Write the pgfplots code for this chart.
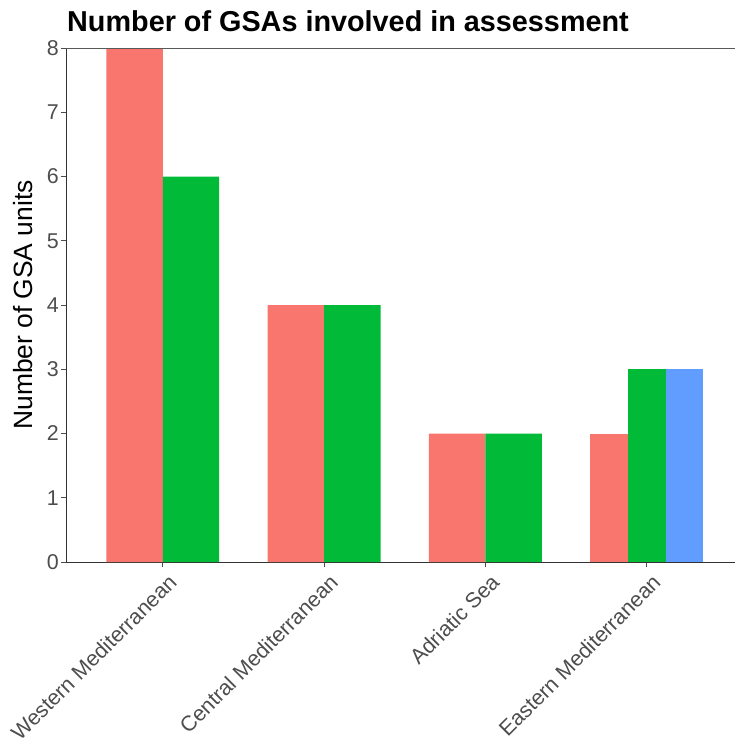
\documentclass[border=0pt]{standalone}
\usepackage{fontspec}
\setmainfont{Liberation Sans}
\usepackage{pgfplots}
\pgfplotsset{compat=1.18}

\definecolor{gred}{HTML}{F8766D}
\definecolor{ggreen}{HTML}{00BA38}
\definecolor{gblue}{HTML}{619CFF}
\definecolor{ticktext}{HTML}{4D4D4D}

\begin{document}
\begin{tikzpicture}
  \begin{axis}[
      scale only axis,
      width=677.5bp,
      height=514bp,
      xmin=-0.6, xmax=3.6,
      ymin=0, ymax=8,
      axis x line*=bottom,
      axis y line*=left,
      axis line style={-, black!80, line width=0.9bp},
      tick align=outside,
      major tick length=5bp,
      tick style={black!70, line width=0.9bp},
      xtick={0,1,2,3},
      xticklabels={Western Mediterranean, Central Mediterranean, Adriatic Sea, Eastern Mediterranean},
      ytick={0,1,...,8},
      /pgf/number format/assume math mode=true,
      tick label style={font=\fontsize{21.5}{24}\selectfont, text=ticktext},
      x tick label style={rotate=45, anchor=north east, inner sep=2bp, xshift=1bp, yshift=-5bp},
      y tick label style={inner sep=2bp},
      ylabel={Number of GSA units},
      ylabel style={font=\fontsize{26.5}{30}\selectfont, at={([xshift=-33bp]axis description cs:0,0.5)}, anchor=base},
      title={Number of GSAs involved in assessment},
      title style={font=\bfseries\fontsize{28.9}{32}\selectfont, at={(axis description cs:0,1)}, anchor=base west, yshift=11bp, inner sep=0pt, xshift=1bp},
      ybar, bar shift=0pt,
      clip=false,
    ]
    % Western, Central, Adriatic: two groups, Eastern: three groups
    \addplot[fill=gred, draw=none, bar width=0.35] coordinates {(-0.175,8) (0.825,4) (1.825,2)};
    \addplot[fill=ggreen, draw=none, bar width=0.35] coordinates {(0.175,6) (1.175,4) (2.175,2)};
    \addplot[fill=gred, draw=none, bar width=0.2333] coordinates {(2.7667,2)};
    \addplot[fill=ggreen, draw=none, bar width=0.2333] coordinates {(3,3)};
    \addplot[fill=gblue, draw=none, bar width=0.2333] coordinates {(3.2333,3)};
    \draw[black!65, line width=0.9bp] (rel axis cs:0,1) -- (rel axis cs:1,1);
  \end{axis}
  \pgfresetboundingbox
  \useasboundingbox (-66bp,-185bp) rectangle (669bp,562bp);
\end{tikzpicture}
\end{document}
